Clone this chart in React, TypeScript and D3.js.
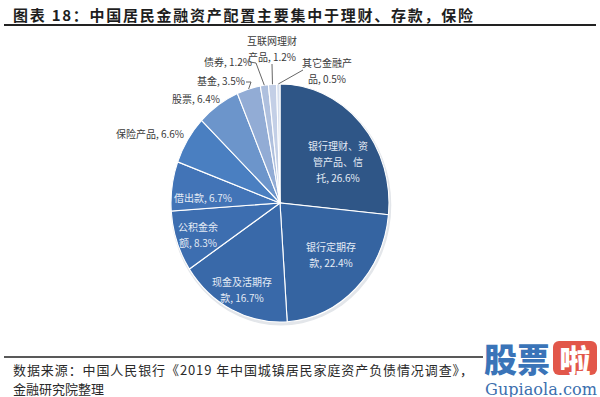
import React from "react";
import * as d3 from "d3";

const categories = [
  "银行理财、资管产品、信托",
  "银行定期存款",
  "现金及活期存款",
  "公积金余额",
  "借出款",
  "保险产品",
  "股票",
  "基金",
  "债券",
  "互联网理财产品",
  "其它金融产品",
];
const values = [26.6, 22.4, 16.7, 8.3, 6.7, 6.6, 6.4, 3.5, 1.2, 1.2, 0.5];
const labelLines = [
  ["银行理财、资", "管产品、信", "托, 26.6%"],
  ["银行定期存", "款, 22.4%"],
  ["现金及活期存", "款, 16.7%"],
  ["公积金余", "额, 8.3%"],
  ["借出款, 6.7%"],
  ["保险产品, 6.6%"],
  ["股票, 6.4%"],
  ["基金, 3.5%"],
  ["债券, 1.2%"],
  ["互联网理财", "产品, 1.2%"],
  ["其它金融产", "品, 0.5%"],
];
const colors = [
  "#2f5687", "#3564a1", "#3969a9", "#3d6eb0", "#4274b7", "#4a7fc1",
  "#6c95cb", "#92acd5", "#afc0de", "#c3cfe6", "#d6dfee",
];

// label layout (centre of text block), leader lines for small slices
const labelPos: [number, number][] = [
  [338, 145], [331, 246], [242, 281], [198, 226], [203, 197],
  [150, 133], [196, 98], [221, 80], [228, 61], [272, 40], [327, 62],
];
const inside = [true, true, true, true, true, false, false, false, false, false, false];
const leaderStart: ([number, number][] | null)[] = [
  null, null, null, null, null, null, null,
  [[246, 82], [251, 82]],
  [[250, 62], [256, 63]],
  [[272, 64]],
  [[303, 70]],
];

const CX = 280, CY = 203, RX = 109, RY = 119;

export default function App() {
  const pie = d3.pie<number>().sort(null).value((d) => d)(values);
  const arc = d3.arc<d3.PieArcDatum<number>>().innerRadius(0).outerRadius(RY);
  const sx = RX / RY;
  const ell = (a: number, f = 1): [number, number] => [
    CX + RX * f * Math.sin(a),
    CY - RY * f * Math.cos(a),
  ];
  const font = "'Noto Sans CJK SC', sans-serif";
  return (
    <svg width={600} height={397} style={{ position: "absolute", left: 0, top: 0, background: "#fff" }}>
      <text x={13} y={14} fontFamily={font} fontWeight={700} fontSize={15} fill="#1e1e1e"
        textLength={460} lengthAdjust="spacing" dominantBaseline="central">
        图表 18：中国居民金融资产配置主要集中于理财、存款，保险
      </text>
      <line x1={4} x2={596} y1={25} y2={25} stroke="#222" strokeWidth={2} />

      <g transform={`translate(${CX},${CY}) scale(${sx},1)`}>
        <ellipse cx={1} cy={2} rx={RY + 1.5} ry={RY + 1.5} fill="#e3e6ea" />
        {pie.map((p, i) => (
          <path key={categories[i]} d={arc(p) || ""} fill={colors[i]} stroke="#fff" strokeWidth={1.2} />
        ))}
      </g>

      {pie.map((p, i) => {
        const ls = leaderStart[i];
        if (!ls) return null;
        const mid = (p.startAngle + p.endAngle) / 2;
        const end = ell(mid, 1.0);
        const pts = [...ls, end];
        return (
          <polyline key={"l" + i} points={pts.map((q) => q.join(",")).join(" ")}
            fill="none" stroke="#555" strokeWidth={0.9} />
        );
      })}

      {labelLines.map((lines, i) => {
        const [x, y] = labelPos[i];
        const lh = 16;
        return (
          <text key={"t" + i} x={x} y={y} textAnchor="middle" fontFamily={font} fontSize={10}
            fill={inside[i] ? "#e4ebf5" : "#3a3a3a"} dominantBaseline="central">
            {lines.map((ln, k) => (
              <tspan key={k} x={x} y={y + k * lh}>{ln}</tspan>
            ))}
          </text>
        );
      })}

      <line x1={4} x2={483} y1={357} y2={357} stroke="#222" strokeWidth={1.5} />
      <text x={13} y={369} fontFamily={font} fontSize={13} fill="#2a2a2a" dominantBaseline="central"
        textLength={460} lengthAdjust="spacing">
        数据来源：中国人民银行《2019 年中国城镇居民家庭资产负债情况调查》，
      </text>
      <text x={13} y={388} fontFamily={font} fontSize={13} fill="#2a2a2a" dominantBaseline="central">
        金融研究院整理
      </text>

      <text x={484} y={358} fontFamily={font} fontWeight={900} fontSize={33} fill="#3a74b8" dominantBaseline="central">股票</text>
      <rect x={553} y={341} width={44} height={34} rx={6} fill="#e2574a" />
      <text x={575} y={358} textAnchor="middle" fontFamily={font} fontWeight={900} fontSize={31} fill="#fff" dominantBaseline="central">啦</text>
      <text x={485} y={389} fontFamily="'DejaVu Serif', serif" fontSize={16} fill="#3c6fae" dominantBaseline="central"
        textLength={112} lengthAdjust="spacingAndGlyphs">Gupiaola.com</text>
    </svg>
  );
}
